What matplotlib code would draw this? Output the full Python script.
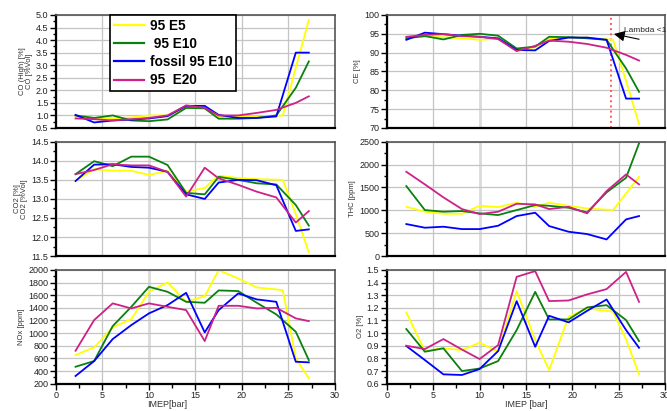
import matplotlib
matplotlib.use("Agg")
import matplotlib.pyplot as plt
from matplotlib.ticker import MultipleLocator

plt.rcParams['font.family'] = ['Liberation Sans', 'DejaVu Sans']

# IMEP operating points [bar]; the E5 run has its rich-limit point a bit later
imep = [2.1, 4.1, 6.1, 8.1, 10.0, 12.0, 14.0, 16.0, 17.5, 19.6, 21.6, 23.7, 25.8, 27.2]
imep_e5 = [2.1, 4.1, 6.1, 8.1, 10.0, 12.0, 14.0, 16.0, 17.5, 19.6, 21.6, 24.4, 25.8, 27.2]

fuel_labels = ['95 E5', ' 95 E10', 'fossil 95 E10', '95  E20']
fuel_colors = ['#ffff00', '#0a800f', '#0000ff', '#cc2288']

co_e5 = [0.95, 0.88, 0.88, 0.92, 1.0, 1.0, 1.3, 1.3, 0.95, 0.95, 0.95, 1.0, 2.9, 4.8]
co_e10 = [1.0, 0.9, 1.0, 0.8, 0.77, 0.84, 1.3, 1.28, 0.87, 0.87, 0.9, 1.0, 2.1, 3.15]
co_fossil = [1.02, 0.72, 0.8, 0.83, 0.88, 0.97, 1.38, 1.38, 1.02, 0.9, 0.9, 0.96, 3.5, 3.5]
co_e20 = [0.88, 0.85, 0.8, 0.85, 0.9, 1.0, 1.4, 1.3, 1.0, 1.0, 1.1, 1.22, 1.5, 1.76]

ce_e5 = [94.1, 94.2, 94.1, 93.8, 93.4, 93.7, 90.9, 91.4, 93.6, 94.0, 94.0, 93.4, 82.5, 71.0]
ce_e10 = [93.8, 94.4, 93.5, 94.7, 95.0, 94.5, 91.1, 91.6, 94.2, 94.1, 93.8, 93.4, 85.8, 79.6]
ce_fossil = [93.4, 95.3, 94.9, 94.5, 94.2, 93.8, 90.7, 90.6, 93.1, 94.0, 94.0, 93.4, 77.8, 77.8]
ce_e20 = [94.2, 94.7, 94.9, 94.4, 94.2, 93.6, 90.4, 91.8, 93.2, 92.9, 92.3, 91.3, 89.4, 87.9]

co2_e5 = [13.48, 13.78, 13.74, 13.74, 13.63, 13.74, 13.19, 13.29, 13.61, 13.55, 13.52, 13.5, 12.6, 11.6]
co2_e10 = [13.65, 13.99, 13.86, 14.11, 14.11, 13.89, 13.16, 13.12, 13.58, 13.5, 13.41, 13.38, 12.84, 12.3]
co2_fossil = [13.47, 13.9, 13.91, 13.84, 13.82, 13.71, 13.12, 13.0, 13.43, 13.5, 13.49, 13.36, 12.16, 12.2]
co2_e20 = [13.65, 13.76, 13.91, 13.88, 13.88, 13.71, 13.06, 13.82, 13.54, 13.37, 13.19, 13.04, 12.38, 12.68]

thc_e5 = [1078, 970, 925, 925, 1100, 1071, 1166, 1078, 1166, 1100, 1042, 1006, 1370, 1735]
thc_e10 = [1531, 1006, 970, 985, 934, 897, 1006, 1115, 1100, 1057, 955, 1393, 1713, 2465]
thc_fossil = [700, 620, 642, 590, 590, 663, 875, 948, 656, 532, 481, 364, 802, 875]
thc_e20 = [1844, 1568, 1284, 1028, 919, 970, 1144, 1130, 1028, 1078, 934, 1422, 1786, 1568]

nox_e5 = [653, 775, 1090, 1222, 1653, 1801, 1495, 1585, 1995, 1864, 1722, 1680, 600, 285]
nox_e10 = [468, 558, 1111, 1416, 1732, 1653, 1495, 1480, 1675, 1665, 1480, 1296, 1021, 574]
nox_fossil = [322, 558, 906, 1127, 1312, 1443, 1637, 1012, 1364, 1627, 1533, 1495, 547, 538]
nox_e20 = [721, 1206, 1470, 1390, 1470, 1416, 1364, 874, 1432, 1432, 1390, 1400, 1233, 1190]

o2_e5 = [1.164, 0.858, 0.88, 0.866, 0.924, 0.853, 1.332, 0.945, 0.708, 1.13, 1.195, 1.17, 0.95, 0.674]
o2_e10 = [1.032, 0.853, 0.88, 0.70, 0.72, 0.779, 1.024, 1.326, 1.108, 1.108, 1.203, 1.221, 1.103, 0.937]
o2_fossil = [0.898, 0.787, 0.674, 0.669, 0.716, 0.858, 1.253, 0.892, 1.137, 1.085, 1.176, 1.266, 1.024, 0.884]
o2_e20 = [0.90, 0.874, 0.953, 0.87, 0.795, 0.905, 1.445, 1.49, 1.253, 1.258, 1.306, 1.348, 1.484, 1.247]

lambda_limit = 24.2


def style_axis(ax, ylim, major, minor, ylabel, bottom_row=False, fmt='{:.1f}'):
    """ Grid, spines and ticks shared by all six emission panels. """
    ax.set_xlim(0, 30)
    ax.set_ylim(*ylim)
    ax.xaxis.set_major_locator(MultipleLocator(5))
    ax.yaxis.set_major_locator(MultipleLocator(major))
    ax.yaxis.set_minor_locator(MultipleLocator(minor))
    ax.grid(True, which='major', color='#c4c4c4', lw=0.9)
    ax.set_axisbelow(True)
    # the 15 bar line is drawn wider and lighter
    ax.get_xgridlines()[3].set(lw=2.0, color='#dadada')

    for side in ('left', 'bottom'):
        ax.spines[side].set(color='black', lw=1.6)
    for side in ('top', 'right'):
        ax.spines[side].set(color='#555555', lw=1.2)

    ax.tick_params(axis='y', which='major', length=4, width=1, labelsize=6.5,
                   labelcolor='#222222', pad=1.5)
    ax.tick_params(axis='y', which='minor', length=2.5, width=1)
    ticks = ax.get_yticks()
    ax.set_yticks(ticks[(ticks >= ylim[0] - 1e-9) & (ticks <= ylim[1] + 1e-9)])
    ax.set_yticklabels([fmt.format(t) for t in ax.get_yticks()])

    if bottom_row:
        ax.xaxis.set_minor_locator(MultipleLocator(2.5))
        ax.tick_params(axis='x', which='major', length=4, width=1, labelsize=6.5,
                       labelcolor='#222222', pad=1.5)
        ax.tick_params(axis='x', which='minor', length=3, width=1)
    else:
        ax.tick_params(axis='x', which='both', length=0, labelbottom=False)

    ax.set_ylabel(ylabel, fontsize=5.5, color='#333333', linespacing=1.0, labelpad=2)


def plot_fuels(ax, series):
    lines = []
    for i, (vals, color) in enumerate(zip(series, fuel_colors)):
        xs = imep_e5 if i == 0 else imep
        line, = ax.plot(xs, vals, color=color, lw=1.3)
        lines.append(line)
    return lines


fig = plt.figure(figsize=(6.67, 4.11), dpi=100)

left_x, right_x, width = 0.084, 0.58, 0.418
rows = [(0.6886, 0.275), (0.377, 0.278), (0.0664, 0.277)]

ax_co = fig.add_axes([left_x, rows[0][0], width, rows[0][1]])
ax_ce = fig.add_axes([right_x, rows[0][0], width - 0.001, rows[0][1]])
ax_co2 = fig.add_axes([left_x, rows[1][0], width, rows[1][1]])
ax_thc = fig.add_axes([right_x, rows[1][0], width - 0.001, rows[1][1]])
ax_nox = fig.add_axes([left_x, rows[2][0], width, rows[2][1]])
ax_o2 = fig.add_axes([right_x, rows[2][0], width - 0.001, rows[2][1]])

handles = plot_fuels(ax_co, [co_e5, co_e10, co_fossil, co_e20])
plot_fuels(ax_ce, [ce_e5, ce_e10, ce_fossil, ce_e20])
plot_fuels(ax_co2, [co2_e5, co2_e10, co2_fossil, co2_e20])
plot_fuels(ax_thc, [thc_e5, thc_e10, thc_fossil, thc_e20])
plot_fuels(ax_nox, [nox_e5, nox_e10, nox_fossil, nox_e20])
plot_fuels(ax_o2, [o2_e5, o2_e10, o2_fossil, o2_e20])

style_axis(ax_co, (0.5, 5.0), 0.5, 0.25, 'CO (High) [%]\nCO [%Vol]')
style_axis(ax_ce, (70, 100), 5, 2.5, 'CE [%]', fmt='{:.0f}')
style_axis(ax_co2, (11.5, 14.5), 0.5, 0.25, 'CO2 [%]\nCO2 [%Vol]')
style_axis(ax_thc, (0, 2500), 500, 250, 'THC [ppm]', fmt='{:.0f}')
style_axis(ax_nox, (200, 2000), 200, 100, 'NOx [ppm]', bottom_row=True, fmt='{:.0f}')
style_axis(ax_o2, (0.6, 1.5), 0.1, 0.05, 'O2 [%]', bottom_row=True)

for ax in (ax_nox, ax_o2):
    ax.set_xticklabels(['{:.0f}'.format(t) for t in ax.get_xticks()])
ax_nox.set_xlabel('IMEP[bar]', fontsize=6.5, color='#333333', labelpad=3)
ax_nox.xaxis.set_label_coords(0.398, -0.14)
ax_o2.set_xlabel('IMEP [bar]', fontsize=6.5, color='#333333', labelpad=3)
ax_o2.xaxis.set_label_coords(0.5, -0.14)

# rich-mixture boundary in the combustion efficiency panel
ax_ce.axvline(lambda_limit, color='#ff5a5a', ls=':', lw=1.4, zorder=1)
ax_ce.annotate('', xy=(lambda_limit, 95.1), xytext=(27.5, 93.4),
               arrowprops=dict(arrowstyle='-|>', color='black', lw=0.8,
                               mutation_scale=16))
ax_ce.text(25.6, 96.0, 'Lambda <1', fontsize=6, color='#222222',
           va='center', clip_on=False)

leg = ax_co.legend(handles, fuel_labels, loc='upper left', bbox_to_anchor=(0.194, 1.0),
                   borderaxespad=0, fancybox=False, framealpha=1, edgecolor='black',
                   prop={'weight': 'bold', 'size': 9.8}, handlelength=2.2,
                   handletextpad=0.4, labelspacing=0.3, borderpad=0.3)
leg.get_frame().set_linewidth(1.2)
for line in leg.get_lines():
    line.set_linewidth(1.6)

fig.savefig('out.png', dpi=100)
